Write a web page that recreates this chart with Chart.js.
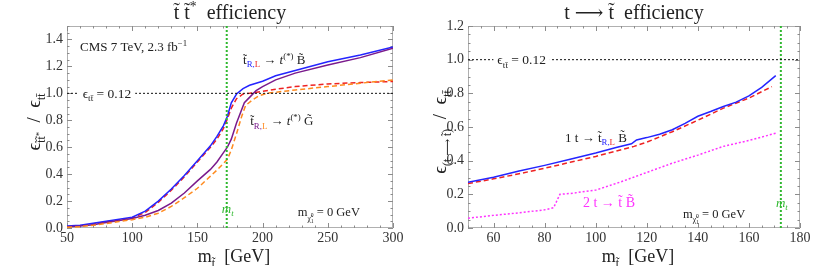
<!DOCTYPE html>
<html>
<head>
<meta charset="utf-8">
<script src="https://cdn.jsdelivr.net/npm/chart.js@4.4.0/dist/chart.umd.min.js"></script>
<style>
  body { margin: 0; background: #fff; }
  .panel { position: absolute; top: 0; width: 415px; height: 266px; }
</style>
</head>
<body>
<div class="panel" style="left:0"><canvas id="left" width="415" height="266"></canvas></div>
<div class="panel" style="left:415px"><canvas id="right" width="415" height="266"></canvas></div>
<script>
// ---- left panel: stop pair efficiency / ttbar efficiency ----
const massBino = [50, 60, 70, 80, 90, 100, 110, 120, 130, 140, 150, 160, 165, 170, 173, 176, 180, 185, 190, 200, 210, 225, 250, 275, 300];
const effBinoR = [0.015, 0.02, 0.035, 0.05, 0.065, 0.08, 0.125, 0.2, 0.29, 0.39, 0.5, 0.61, 0.68, 0.76, 0.83, 0.93, 0.995, 1.035, 1.06, 1.09, 1.13, 1.17, 1.235, 1.285, 1.345];
const effBinoL = [0.01, 0.015, 0.03, 0.045, 0.06, 0.075, 0.115, 0.19, 0.28, 0.38, 0.49, 0.6, 0.66, 0.74, 0.81, 0.89, 0.96, 0.995, 1.0, 1.015, 1.03, 1.05, 1.07, 1.08, 1.088];

const massGravR = [50, 60, 70, 80, 90, 100, 110, 120, 130, 140, 150, 160, 165, 170, 173, 176, 180, 186, 190, 195, 200, 210, 225, 250, 275, 300];
const effGravR = [0.01, 0.015, 0.025, 0.04, 0.055, 0.07, 0.095, 0.13, 0.185, 0.26, 0.35, 0.435, 0.49, 0.56, 0.6, 0.66, 0.78, 0.93, 0.97, 1.02, 1.05, 1.1, 1.15, 1.21, 1.265, 1.335];

const massGravL = [50, 60, 70, 80, 90, 100, 110, 120, 130, 140, 150, 160, 165, 170, 173, 176, 180, 184, 187, 192, 197, 203, 225, 250, 275, 300];
const effGravL = [0.005, 0.01, 0.02, 0.033, 0.048, 0.062, 0.08, 0.11, 0.16, 0.225, 0.295, 0.385, 0.43, 0.48, 0.51, 0.58, 0.7, 0.83, 0.91, 0.95, 0.98, 1.0, 1.025, 1.05, 1.075, 1.1];

const leftXTicks = [50, 100, 150, 200, 250, 300];
const leftYTicks = [0, 0.2, 0.4, 0.6, 0.8, 1.0, 1.2, 1.4];

// ---- right panel: t -> stop efficiency / ttbar efficiency ----
const massOneR = [50, 60, 70, 80, 90, 100, 108, 114, 116, 120, 125, 130, 135, 140, 145, 150, 155, 160, 165, 170.5];
const effOneR = [0.272, 0.302, 0.338, 0.372, 0.408, 0.445, 0.478, 0.5, 0.523, 0.537, 0.557, 0.584, 0.622, 0.664, 0.692, 0.722, 0.748, 0.785, 0.835, 0.905];
const massOneL = [50, 60, 70, 80, 90, 100, 110, 115, 120, 130, 140, 150, 160, 169];
const effOneL = [0.264, 0.292, 0.322, 0.355, 0.39, 0.425, 0.465, 0.485, 0.51, 0.572, 0.64, 0.712, 0.772, 0.84];
const massTwo = [50, 60, 70, 80, 83.5, 86, 90, 100, 110, 120, 130, 140, 150, 160, 170.5];
const effTwo = [0.058, 0.075, 0.09, 0.108, 0.12, 0.2, 0.205, 0.225, 0.275, 0.33, 0.385, 0.433, 0.485, 0.52, 0.563];

const rightXTicks = [60, 80, 100, 120, 140, 160, 180];
const rightYTicks = [0, 0.2, 0.4, 0.6, 0.8, 1.0, 1.2];

const topMass = 172.5;
const refRatio = 1.0;

const SERIF = '"Liberation Serif", "DejaVu Serif", serif';
const BLUE = '#2424ff', RED = '#ee2222', PURPLE = '#7a1a8c', ORANGE = '#ff8a1e', MAGENTA = '#ff33ff', GREEN = '#2fb82f';

function pts(xs, ys) {
  return xs.map((x, i) => ({ x: x, y: ys[i] }));
}

function line(data, color, dash, width) {
  return { data: data, borderColor: color, borderWidth: width || 1.5, borderDash: dash || [],
           pointRadius: 0, tension: 0, fill: false };
}

// text made of pieces: [string, {c: colour, s: scale, dy: shift, i: italic, w0: no advance}]
function richParts(ctx, parts, size) {
  let w = 0;
  const segs = parts.map(p => {
    const o = p[1] || {};
    const font = (o.i ? 'italic ' : '') + (size * (o.s || 1)).toFixed(1) + 'px ' + SERIF;
    ctx.font = font;
    const pw = ctx.measureText(p[0]).width;
    if (!o.w0) w += pw;
    return { t: p[0], font: font, pw: o.w0 ? 0 : pw, c: o.c || '#222', dy: (o.dy || 0) * size };
  });
  return { segs: segs, w: w };
}

function drawRich(ctx, parts, x, y, size, align) {
  const r = richParts(ctx, parts, size);
  let cx = align === 'center' ? x - r.w / 2 : (align === 'right' ? x - r.w : x);
  ctx.textAlign = 'left';
  ctx.textBaseline = 'alphabetic';
  r.segs.forEach(s => {
    ctx.font = s.font;
    ctx.fillStyle = s.c;
    ctx.fillText(s.t, cx, y + s.dy);
    cx += s.pw;
  });
  return r.w;
}

const SUB = { s: 0.68, dy: 0.25 };
const SUP = { s: 0.68, dy: -0.4 };
function sub(c) { return Object.assign({}, SUB, c ? { c: c } : {}); }

const extras = {};

const framePlugin = {
  id: 'frame',
  beforeDatasetsDraw(chart) {
    const ex = extras[chart.canvas.id];
    const { ctx, chartArea: a, scales } = chart;
    ctx.save();
    ctx.strokeStyle = '#b0b0b0';
    ctx.lineWidth = 1;
    ctx.strokeRect(a.left + 0.5, a.top + 0.5, a.right - a.left - 1, a.bottom - a.top - 1);
    ctx.strokeStyle = '#8c8c8c';
    ctx.beginPath();
    const sx = scales.x, sy = scales.y;
    for (let k = 0; ; k++) {
      const v = sx.min + k * ex.xMinor;
      if (v > sx.max + 1e-9) break;
      const major = Math.abs(v / ex.xMajor - Math.round(v / ex.xMajor)) < 1e-6;
      const len = major ? 5 : 2.5;
      const px = Math.round(sx.getPixelForValue(v)) + 0.5;
      ctx.moveTo(px, a.bottom); ctx.lineTo(px, a.bottom - len);
      ctx.moveTo(px, a.top); ctx.lineTo(px, a.top + len);
    }
    for (let k = 0; ; k++) {
      const v = sy.min + k * ex.yMinor;
      if (v > sy.max + 1e-9) break;
      const major = Math.abs(v / 0.2 - Math.round(v / 0.2)) < 1e-6;
      const len = major ? 5 : 2.5;
      const py = Math.round(sy.getPixelForValue(v)) + 0.5;
      ctx.moveTo(a.left, py); ctx.lineTo(a.left + len, py);
      ctx.moveTo(a.right, py); ctx.lineTo(a.right - len, py);
    }
    ctx.stroke();
    ctx.restore();
  },
  afterDatasetsDraw(chart) {
    const ex = extras[chart.canvas.id];
    const { ctx, chartArea: a, scales } = chart;
    ctx.save();
    const X = v => scales.x.getPixelForValue(v);
    const Y = v => scales.y.getPixelForValue(v);
    // reference label sitting on the dotted line, with a gap cut out of it
    const lx = X(ex.refLabelX);
    const ly = Y(refRatio);
    const parts = [['\u03F5'], ['tt\u0304', SUB], [' = 0.12']];
    const w = richParts(ctx, parts, 13.5).w;
    ctx.fillStyle = '#fff';
    ctx.fillRect(lx - 4, ly - 4, w + 8, 8);
    drawRich(ctx, parts, lx, ly + 4.5, 13.5, 'left');
    ex.notes(ctx, X, Y, a);
    ctx.restore();
  },
  afterDraw(chart) {
    const ex = extras[chart.canvas.id];
    const { ctx, chartArea: a } = chart;
    ctx.save();
    drawRich(ctx, ex.title, (a.left + a.right) / 2, 19, 20, 'center');
    drawRich(ctx, [['m'], ['t\u0303', { s: 0.68, dy: 0.28 }], ['  [GeV]']], (a.left + a.right) / 2 + 4, 262, 18, 'center');
    ctx.translate(ex.yTitleX, ex.yTitleY);
    ctx.rotate(-Math.PI / 2);
    drawRich(ctx, ex.yTitle, 0, 0, 19, 'center');
    ctx.restore();
  }
};

function makeChart(id, datasets, xr, yr, xTicks, yTicks, padRight, yWidth) {
  return new Chart(document.getElementById(id), {
    type: 'line',
    data: { datasets: datasets },
    options: {
      responsive: false,
      animation: false,
      parsing: false,
      layout: { padding: { left: 0, right: padRight, top: 26, bottom: 0 } },
      plugins: { legend: { display: false }, tooltip: { enabled: false } },
      scales: {
        x: {
          type: 'linear', min: xr[0], max: xr[1],
          grid: { display: false, drawTicks: false }, border: { display: false },
          afterBuildTicks: s => { s.ticks = xTicks.map(v => ({ value: v })); },
          afterFit: s => { s.height = 38; },
          ticks: { padding: 2, maxRotation: 0, autoSkip: false, color: '#333',
                   font: { family: SERIF, size: 14 }, callback: v => String(v) }
        },
        y: {
          type: 'linear', min: yr[0], max: yr[1],
          grid: { display: false, drawTicks: false }, border: { display: false },
          afterBuildTicks: s => { s.ticks = yTicks.map(v => ({ value: v })); },
          afterFit: s => { s.width = yWidth; },
          ticks: { padding: 4, autoSkip: false, color: '#333',
                   font: { family: SERIF, size: 14 }, callback: v => v.toFixed(1) }
        }
      }
    },
    plugins: [framePlugin]
  });
}

extras.left = {
  xMinor: 10, xMajor: 50, yMinor: 0.05,
  refLabelX: 62,
  yTitleX: 40, yTitleY: 122,
  title: [['t\u0303 t\u0303'], ['*', SUP], ['  efficiency']],
  yTitle: [['\u03F5'], ['t\u0303t\u0303', { s: 0.62, dy: 0.28 }], ['*', { s: 0.45, dy: 0.08 }], ['  /  \u03F5'], ['tt\u0304', { s: 0.62, dy: 0.28 }]],
  notes(ctx, X, Y) {
    drawRich(ctx, [['CMS 7 TeV, 2.3 fb'], ['\u22121', SUP]], X(60), Y(1.35) + 4.5, 13, 'left');
    drawRich(ctx, [['t\u0303'], ['R', sub(BLUE)], [',', sub(BLUE)], ['L', sub(RED)], [' \u2192 '], ['t', { i: true }], ['(*)', SUP], [' B\u0303']],
             X(185), Y(1.25) + 4.5, 13, 'left');
    drawRich(ctx, [['t\u0303'], ['R', sub(PURPLE)], [',', sub(PURPLE)], ['L', sub(ORANGE)], [' \u2192 '], ['t', { i: true }], ['(*)', SUP], [' G\u0303']],
             X(190.5), Y(0.795) + 4.5, 13, 'left');
    drawRich(ctx, [['m', { i: true, c: GREEN }], ['t', { i: true, c: GREEN, s: 0.68, dy: 0.25 }]], X(topMass) + 1, Y(0.14) + 4, 13, 'center');
    drawRich(ctx, [['m'], ['\u03C7\u0303', { s: 0.6, dy: 0.35 }], ['0', { s: 0.45, dy: 0.05, w0: true }], ['1', { s: 0.45, dy: 0.5 }], [' = 0 GeV']],
             X(227), Y(0.12) + 4.5, 12.5, 'left');
  }
};

extras.right = {
  xMinor: 5, xMajor: 20, yMinor: 0.05,
  refLabelX: 61.5,
  yTitleX: 31, yTitleY: 132,
  title: [['t \u27F6 t\u0303  efficiency']],
  yTitle: [['\u03F5'], ['(t \u27F6 t\u0303)', { s: 0.62, dy: 0.28 }], ['  /  \u03F5'], ['tt\u0304', { s: 0.62, dy: 0.28 }]],
  notes(ctx, X, Y) {
    drawRich(ctx, [['1 t \u2192 t\u0303'], ['R', sub(BLUE)], [',', sub(BLUE)], ['L', sub(RED)], [' B\u0303']],
             X(88), Y(0.54) + 4.5, 13, 'left');
    drawRich(ctx, [['2 t \u2192 t\u0303 B\u0303', { c: MAGENTA }]], X(95), Y(0.156) + 5, 14, 'left');
    drawRich(ctx, [['m'], ['\u03C7\u0303', { s: 0.6, dy: 0.35 }], ['0', { s: 0.45, dy: 0.05, w0: true }], ['1', { s: 0.45, dy: 0.5 }], [' = 0 GeV']],
             X(134.2), Y(0.087) + 4.5, 12.5, 'left');
    drawRich(ctx, [['m', { i: true, c: GREEN }], ['t', { i: true, c: GREEN, s: 0.68, dy: 0.25 }]], X(topMass) + 1, Y(0.15) + 4, 13, 'center');
  }
};

makeChart('left', [
  line([{ x: 50, y: refRatio }, { x: 300, y: refRatio }], '#111', [2, 2], 1),
  line([{ x: topMass, y: 0 }, { x: topMass, y: 1.5 }], GREEN, [2, 2], 2),
  line(pts(massGravL, effGravL), ORANGE, [5, 3], 1.5),
  line(pts(massGravR, effGravR), PURPLE, [], 1.5),
  line(pts(massBino, effBinoR), BLUE, [], 1.5),
  line(pts(massBino, effBinoL), RED, [5, 3], 1.5)
], [50, 300], [0, 1.5], leftXTicks, leftYTicks, 22, 67);

makeChart('right', [
  line([{ x: 50, y: refRatio }, { x: 180, y: refRatio }], '#111', [2, 2], 1),
  line([{ x: topMass, y: 0 }, { x: topMass, y: 1.2 }], GREEN, [2, 2], 2),
  line(pts(massTwo, effTwo), MAGENTA, [2, 2], 1.5),
  line(pts(massOneR, effOneR), BLUE, [], 1.5),
  line(pts(massOneL, effOneL), RED, [5, 3], 1.5)
], [50, 180], [0, 1.2], rightXTicks, rightYTicks, 30, 53);
</script>
</body>
</html>
